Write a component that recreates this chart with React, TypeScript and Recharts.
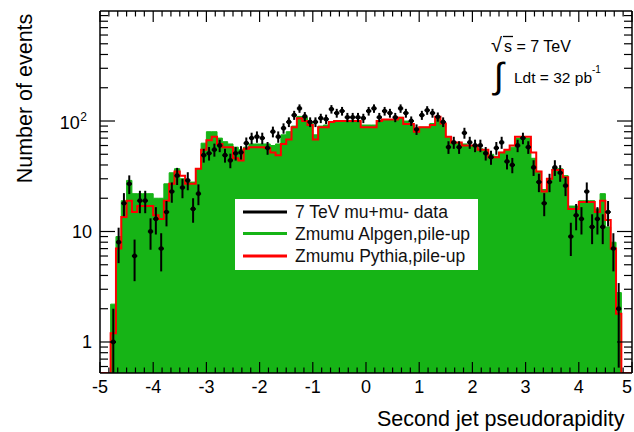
import React from 'react';
import { ComposedChart, Area, Line, Scatter, XAxis, YAxis, ErrorBar } from 'recharts';

// Bin edges of the pseudorapidity histogram (100 bins of width 0.1)
const BIN_EDGES = [
  -5.0, -4.9, -4.8, -4.7, -4.6, -4.5, -4.4, -4.3, -4.2, -4.1,
  -4.0, -3.9, -3.8, -3.7, -3.6, -3.5, -3.4, -3.3, -3.2, -3.1,
  -3.0, -2.9, -2.8, -2.7, -2.6, -2.5, -2.4, -2.3, -2.2, -2.1,
  -2.0, -1.9, -1.8, -1.7, -1.6, -1.5, -1.4, -1.3, -1.2, -1.1,
  -1.0, -0.9, -0.8, -0.7, -0.6, -0.5, -0.4, -0.3, -0.2, -0.1,
  0.0, 0.1, 0.2, 0.3, 0.4, 0.5, 0.6, 0.7, 0.8, 0.9,
  1.0, 1.1, 1.2, 1.3, 1.4, 1.5, 1.6, 1.7, 1.8, 1.9,
  2.0, 2.1, 2.2, 2.3, 2.4, 2.5, 2.6, 2.7, 2.8, 2.9,
  3.0, 3.1, 3.2, 3.3, 3.4, 3.5, 3.6, 3.7, 3.8, 3.9,
  4.0, 4.1, 4.2, 4.3, 4.4, 4.5, 4.6, 4.7, 4.8, 4.9,
  5.0,
];

// 7 TeV mu+mu- data (events per bin)
const DATA_COUNTS = [
  0, 0, 1, 8, 18, 27, 6, 19, 19, 10,
  13, 7, 15, 23, 32, 25, 29, 16, 22, 49,
  51, 55, 60, 49, 44, 51, 52, 63, 70, 72,
  70, 57, 80, 72, 86, 98, 113, 130, 110, 98,
  98, 106, 104, 128, 118, 123, 108, 108, 108, 106,
  123, 130, 108, 123, 118, 108, 130, 118, 100, 84,
  113, 125, 118, 109, 98, 58, 64, 58, 78, 64,
  60, 60, 51, 47, 57, 64, 43, 40, 60, 70,
  58, 38, 28, 18, 28, 38, 34, 26, 9, 14,
  13, 23, 11, 13, 11, 15, 7, 2, 0, 0,
];

// Zmumu Alpgen, pile-up (filled green)
const ALPGEN = [
  0, 0, 2.2, 9, 19, 29, 22, 22, 22, 22,
  20, 20, 27, 34, 37, 30, 28, 28, 37, 63,
  80, 80, 70, 65, 62, 58, 55, 58, 62, 62,
  62, 62, 60, 62, 75, 80, 90, 110, 108, 95,
  75, 90, 92, 98, 100, 100, 100, 100, 100, 92,
  92, 92, 100, 102, 102, 102, 108, 100, 95, 80,
  88, 88, 95, 108, 95, 72, 64, 64, 62, 60,
  60, 56, 54, 50, 48, 52, 54, 58, 70, 72,
  70, 46, 35, 24, 30, 37, 37, 32, 17, 17,
  19, 19, 19, 16, 22, 11, 8, 2.8, 0, 0,
];

// Zmumu Pythia, pile-up (red line)
const PYTHIA = [
  0, 0, 1.2, 7, 13.5, 19, 15, 17, 17, 17,
  14, 13, 19, 27, 35, 32, 27, 27, 37, 55,
  67, 72, 62, 58, 58, 46, 44, 56, 58, 58,
  58, 57, 52, 49, 62, 68, 88, 106, 100, 92,
  68, 88, 88, 98, 100, 100, 100, 100, 100, 88,
  88, 88, 100, 103, 103, 103, 107, 94, 94, 80,
  88, 88, 92, 109, 95, 72, 64, 64, 60, 60,
  60, 55, 55, 47, 47, 52, 55, 60, 72, 72,
  72, 52, 35, 23, 30, 36, 36, 31, 16, 16,
  18.5, 18.5, 18.5, 15, 19, 12.7, 7, 1.8, 0, 0,
];

const X_MAJOR_TICKS = [-5, -4, -3, -2, -1, 0, 1, 2, 3, 4, 5];
const X_SUBDIV = 6;
const Y_MAJOR_TICKS = [1, 10, 100];
const Y_TICK_TEXT = ['1', '10', '10^2'];
const Y_DECADES = [0.1, 1, 10, 100];

const LEGEND_LABELS = ['7 TeV mu+mu- data', 'Zmumu Alpgen,pile-up', 'Zmumu Pythia,pile-up'];

const Y_MIN = 0.524;
const Y_MAX = 990;
const GREEN = '#16b416';
const RED = '#ff0000';
const FONT = '"Liberation Sans", Arial, Helvetica, sans-serif';

const W = 634;
const H = 432;
const M = { top: 10, right: 1, bottom: 58, left: 99 };

const xTicks: number[] = [];
for (let k = 0; k < X_MAJOR_TICKS.length - 1; k++) {
  const a = X_MAJOR_TICKS[k];
  const b = X_MAJOR_TICKS[k + 1];
  for (let j = 0; j < X_SUBDIV; j++) xTicks.push(a + ((b - a) * j) / X_SUBDIV);
}
xTicks.push(X_MAJOR_TICKS[X_MAJOR_TICKS.length - 1]);

const yTicks: number[] = [];
Y_DECADES.forEach((d) => {
  for (let m = 1; m <= 9; m++) {
    const v = +(m * d).toPrecision(6);
    if (v >= Y_MIN && v <= Y_MAX) yTicks.push(v);
  }
});

const isMajorX = (v: number) => X_MAJOR_TICKS.some((t) => Math.abs(t - v) < 1e-6);
const majorYIndex = (v: number) => Y_MAJOR_TICKS.findIndex((t) => Math.abs(t - v) < 1e-9);

const histRows = BIN_EDGES.map((x, i) => {
  const b = Math.min(i, ALPGEN.length - 1);
  return { x, alpgen: ALPGEN[b], pythia: PYTHIA[b] };
});

const dataPoints = DATA_COUNTS.map((n, i) => ({
  x: (BIN_EDGES[i] + BIN_EDGES[i + 1]) / 2,
  y: n,
  ey: [Math.min(Math.sqrt(n), n - Y_MIN), Math.sqrt(n)],
  ex: (BIN_EDGES[i + 1] - BIN_EDGES[i]) / 2,
})).filter((p) => p.y > 0);

const clampLog = (key: 'alpgen' | 'pythia') => (d: any) => Math.max(d[key], Y_MIN);

const BottomTick = (props: any) => {
  const { x, y, payload } = props;
  const major = isMajorX(payload.value);
  const isLast = Math.abs(payload.value - X_MAJOR_TICKS[X_MAJOR_TICKS.length - 1]) < 1e-6;
  return (
    <g>
      <line x1={x} x2={x} y1={y} y2={y - (major ? 11 : 5.5)} stroke="#000" strokeWidth={1.2} />
      {major && (
        <text
          x={isLast ? Math.min(x, W - 1) : x}
          y={y + 20}
          textAnchor={isLast ? 'end' : 'middle'}
          fontSize={18}
          fontFamily={FONT}
          fill="#000"
        >
          {String(Math.round(payload.value))}
        </text>
      )}
    </g>
  );
};

const TopTick = (props: any) => {
  const { x, y, payload } = props;
  const major = isMajorX(payload.value);
  return <line x1={x} x2={x} y1={y} y2={y + (major ? 11 : 5.5)} stroke="#000" strokeWidth={1.2} />;
};

const LeftTick = (props: any) => {
  const { x, y, payload } = props;
  const idx = majorYIndex(payload.value);
  const major = idx >= 0;
  let label: React.ReactNode = null;
  if (major) {
    const txt = Y_TICK_TEXT[idx];
    if (txt.includes('^')) {
      const [base, exp] = txt.split('^');
      label = (
        <text x={x - 13} y={y + 7.5} textAnchor="end" fontSize={18} fontFamily={FONT} fill="#000">
          {base}
          <tspan dx={0.5} dy={-8} fontSize={12}>{exp}</tspan>
        </text>
      );
    } else {
      label = (
        <text x={x - 8} y={y + 6.5} textAnchor="end" fontSize={18} fontFamily={FONT} fill="#000">
          {txt}
        </text>
      );
    }
  }
  return (
    <g>
      <line x1={x} x2={x + (major ? 15 : 8)} y1={y} y2={y} stroke="#000" strokeWidth={1.2} />
      {label}
    </g>
  );
};

const RightTick = (props: any) => {
  const { x, y, payload } = props;
  const major = majorYIndex(payload.value) >= 0;
  return <line x1={x} x2={x - (major ? 15 : 8)} y1={y} y2={y} stroke="#000" strokeWidth={1.2} />;
};

const DataMarker = (props: any) => {
  const { cx, cy } = props;
  if (cx == null || cy == null) return null;
  return <circle cx={cx} cy={cy} r={2.4} fill="#000" />;
};

export default function App() {
  const legendX0 = 235;
  const legendY0 = 199;
  const rowY = [212, 233.5, 256];
  const rowColors = ['#000', GREEN, RED];
  return (
    <div style={{ position: 'absolute', left: 0, top: 0, width: W, height: H, background: '#fff' }}>
      <ComposedChart width={W} height={H} data={histRows} margin={M}>
        <Area
          dataKey={clampLog('alpgen')}
          type="stepAfter"
          fill={GREEN}
          fillOpacity={1}
          stroke={GREEN}
          strokeWidth={1}
          isAnimationActive={false}
          dot={false}
          activeDot={false}
        />
        <Line
          dataKey={clampLog('pythia')}
          type="stepAfter"
          stroke={RED}
          strokeWidth={2}
          dot={false}
          activeDot={false}
          isAnimationActive={false}
        />
        <Scatter data={dataPoints} dataKey="y" shape={<DataMarker />} isAnimationActive={false}>
          <ErrorBar dataKey="ey" direction="y" width={0} stroke="#000" strokeWidth={2} isAnimationActive={false} />
          <ErrorBar dataKey="ex" direction="x" width={0} stroke="#000" strokeWidth={2} isAnimationActive={false} />
        </Scatter>
        <XAxis
          dataKey="x"
          type="number"
          domain={[-5, 5]}
          ticks={xTicks}
          interval={0}
          height={1}
          tickSize={0}
          tickMargin={0}
          tickLine={false}
          axisLine={{ stroke: '#000', strokeWidth: 1.5 }}
          tick={<BottomTick />}
          allowDataOverflow
        />
        <XAxis
          xAxisId="top"
          orientation="top"
          dataKey="x"
          type="number"
          domain={[-5, 5]}
          ticks={xTicks}
          interval={0}
          height={1}
          tickSize={0}
          tickMargin={0}
          tickLine={false}
          axisLine={{ stroke: '#000', strokeWidth: 1.5 }}
          tick={<TopTick />}
          allowDataOverflow
        />
        <YAxis
          type="number"
          scale="log"
          domain={[Y_MIN, Y_MAX]}
          ticks={yTicks}
          interval={0}
          width={1}
          tickSize={0}
          tickMargin={0}
          tickLine={false}
          axisLine={{ stroke: '#000', strokeWidth: 1.5 }}
          tick={<LeftTick />}
          allowDataOverflow
        />
        <YAxis
          yAxisId="right"
          orientation="right"
          type="number"
          scale="log"
          domain={[Y_MIN, Y_MAX]}
          ticks={yTicks}
          interval={0}
          width={1}
          tickSize={0}
          tickMargin={0}
          tickLine={false}
          axisLine={{ stroke: '#000', strokeWidth: 1.5 }}
          tick={<RightTick />}
          allowDataOverflow
        />
      </ComposedChart>
      <svg
        width={W}
        height={H}
        style={{ position: 'absolute', left: 0, top: 0, pointerEvents: 'none' }}
        fontFamily={FONT}
      >
        <text transform="translate(32,98.5) rotate(-90)" textAnchor="middle" fontSize={21.5} fill="#000">
          Number of events
        </text>
        <text x={377} y={426} fontSize={21.5} fill="#000">
          Second jet pseudorapidity
        </text>
        <rect x={legendX0} y={legendY0} width={243} height={71} fill="#fff" />
        {LEGEND_LABELS.map((lab, i) => (
          <g key={lab}>
            <line x1={243} x2={287} y1={rowY[i]} y2={rowY[i]} stroke={rowColors[i]} strokeWidth={3} />
            <text x={295} y={rowY[i] + 6} fontSize={17.5} fill="#111">
              {lab}
            </text>
          </g>
        ))}
        <text x={491} y={52} fontSize={20} fill="#000">√</text>
        <line x1={503} x2={513} y1={36.5} y2={36.5} stroke="#000" strokeWidth={1.3} />
        <text x={504} y={52} fontSize={16} fill="#000">s = 7 TeV</text>
        <text x={494} y={88} fontSize={36} fill="#000">∫</text>
        <text x={514} y={83} fontSize={15.5} fill="#000">
          Ldt = 32 pb
          <tspan dy={-10} fontSize={10}>-1</tspan>
        </text>
      </svg>
    </div>
  );
}
